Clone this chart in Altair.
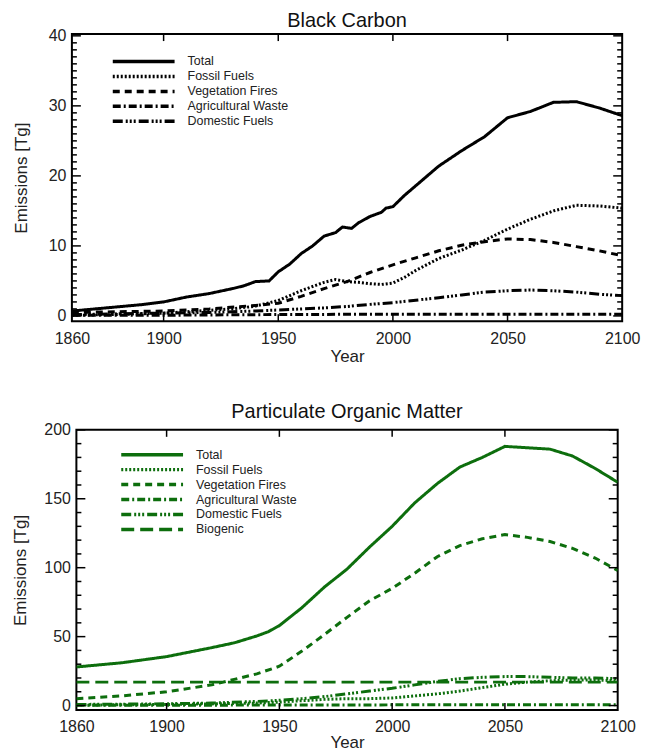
import altair as alt
import pandas as pd

# ---------------- Black Carbon data ----------------
bc_total_years = [1860, 1870, 1880, 1890, 1900, 1910, 1920, 1930, 1935, 1940, 1946, 1950, 1955, 1960,
                  1965, 1970, 1975, 1978, 1982, 1985, 1990, 1995, 1997, 2000, 2005, 2010, 2020, 2030,
                  2040, 2050, 2060, 2070, 2080, 2090, 2100]
bc_total = [0.7, 1.0, 1.3, 1.6, 2.0, 2.7, 3.2, 3.9, 4.3, 4.9, 5.0, 6.3, 7.4, 8.9,
            10.0, 11.4, 11.9, 12.7, 12.5, 13.3, 14.2, 14.8, 15.4, 15.6, 17.2, 18.6, 21.4, 23.6,
            25.6, 28.3, 29.2, 30.5, 30.6, 29.7, 28.6]

bc_fossil_years = [1860, 1880, 1900, 1910, 1920, 1930, 1940, 1950, 1960, 1970, 1975, 1980, 1985, 1990,
                   1995, 2000, 2005, 2010, 2020, 2030, 2040, 2050, 2060, 2070, 2080, 2090, 2100]
bc_fossil = [0.1, 0.2, 0.4, 0.6, 0.8, 1.0, 1.4, 2.2, 3.6, 4.8, 5.2, 4.9, 4.8, 4.6,
             4.5, 4.7, 5.5, 6.5, 8.2, 9.4, 10.8, 12.4, 13.8, 15.0, 15.8, 15.7, 15.4]

bc_veg_years = [1860, 1880, 1900, 1920, 1940, 1950, 1960, 1970, 1980, 1990, 2000, 2010, 2020, 2030,
                2040, 2050, 2060, 2070, 2080, 2090, 2100]
bc_veg = [0.5, 0.6, 0.7, 1.0, 1.5, 1.8, 2.8, 3.9, 4.9, 6.2, 7.3, 8.3, 9.3, 10.1,
          10.6, 11.0, 10.9, 10.5, 9.9, 9.3, 8.6]

bc_agri_years = [1860, 1900, 1950, 2000, 2050, 2100]
bc_agri = [0.1, 0.1, 0.2, 0.25, 0.25, 0.25]

bc_dom_years = [1860, 1880, 1900, 1920, 1940, 1950, 1960, 1970, 1980, 1990, 2000, 2010, 2020, 2030,
                2040, 2050, 2060, 2070, 2080, 2090, 2100]
bc_dom = [0.2, 0.3, 0.4, 0.5, 0.7, 0.85, 1.0, 1.15, 1.35, 1.65, 1.9, 2.25, 2.6, 3.0,
          3.4, 3.6, 3.7, 3.6, 3.4, 3.1, 2.9]

# ---------------- Particulate Organic Matter data ----------------
pom_total_years = [1860, 1880, 1900, 1920, 1930, 1940, 1945, 1950, 1960, 1970, 1980, 1990, 2000,
                   2010, 2020, 2030, 2040, 2050, 2060, 2070, 2080, 2090, 2100]
pom_total = [28, 31, 35.5, 42, 45.5, 50.5, 53.5, 58, 71, 86, 99, 115, 130,
             147, 161, 173, 180, 188, 187, 186, 181, 172, 162]

pom_fossil_years = [1860, 1900, 1920, 1940, 1950, 1960, 1970, 1980, 1990, 2000, 2010, 2020, 2030,
                    2040, 2050, 2060, 2070, 2080, 2090, 2100]
pom_fossil = [0.3, 0.8, 1.2, 1.8, 2.5, 3.5, 4.5, 5.0, 5.0, 5.5, 7.0, 8.5, 10.5,
              13.0, 15.5, 17.0, 18.0, 18.5, 18.5, 18.0]

pom_veg_years = [1860, 1880, 1900, 1920, 1930, 1940, 1950, 1960, 1970, 1980, 1990, 2000, 2010,
                 2020, 2030, 2040, 2050, 2060, 2070, 2080, 2090, 2100]
pom_veg = [5, 7, 10, 15, 19, 23, 28.5, 39.5, 51.5, 64, 76, 85, 96,
           108, 116, 121, 124, 122, 119, 114, 107, 98]

pom_agri_years = [1860, 1900, 1950, 2000, 2050, 2100]
pom_agri = [0.2, 0.2, 0.4, 0.5, 0.5, 0.5]

pom_dom_years = [1860, 1880, 1900, 1920, 1940, 1950, 1960, 1970, 1980, 1990, 2000, 2010, 2020,
                 2030, 2040, 2050, 2060, 2070, 2080, 2090, 2100]
pom_dom = [0.8, 1.0, 1.3, 1.8, 3.0, 3.8, 5.0, 6.5, 8.5, 10.5, 12.5, 15.0, 17.5,
           19.5, 20.5, 21.0, 21.0, 20.5, 20.0, 20.0, 19.5]

pom_bio_years = [1860, 2100]
pom_bio = [17, 17]

series_bc = ["Total", "Fossil Fuels", "Vegetation Fires", "Agricultural Waste", "Domestic Fuels"]
series_pom = series_bc + ["Biogenic"]

dash_total = [1, 0]
dash_fossil = [2, 2]
dash_veg = [7, 5]
dash_agri = [8, 3, 2, 3]
dash_dom = [10, 3, 2, 2, 2, 2, 2, 3]
dash_bio = [13, 6]

x_labels = [1860, 1900, 1950, 2000, 2050, 2100]
x_inner = [1900, 1950, 2000, 2050]

bc_major = [0, 10, 20, 30, 40]
bc_minor = [v for v in range(0, 41) if v % 10 != 0]
pom_major = [0, 50, 100, 150, 200]
pom_minor = [v for v in range(0, 201, 10) if v % 50 != 0]

FONT = "Liberation Sans"


def long_df(pairs):
    rows = []
    for name, yrs, vals in pairs:
        for yr, v in zip(yrs, vals):
            rows.append({"series": name, "year": yr, "value": v})
    return pd.DataFrame(rows)


bc_df = long_df([
    ("Total", bc_total_years, bc_total),
    ("Fossil Fuels", bc_fossil_years, bc_fossil),
    ("Vegetation Fires", bc_veg_years, bc_veg),
    ("Agricultural Waste", bc_agri_years, bc_agri),
    ("Domestic Fuels", bc_dom_years, bc_dom),
])

pom_df = long_df([
    ("Total", pom_total_years, pom_total),
    ("Fossil Fuels", pom_fossil_years, pom_fossil),
    ("Vegetation Fires", pom_veg_years, pom_veg),
    ("Agricultural Waste", pom_agri_years, pom_agri),
    ("Domestic Fuels", pom_dom_years, pom_dom),
    ("Biogenic", pom_bio_years, pom_bio),
])


def panel(df, order, dashes, color, title, ydomain, ymajor, yminor, width, height,
          legx, legy, clip_h, xtitle_pad, ytitle_pad, title_off):
    xscale = alt.Scale(domain=[1860, 2100], nice=False, zero=False)
    yscale = alt.Scale(domain=ydomain, nice=False, zero=False)

    xaxis = alt.Axis(orient="bottom", values=x_labels, format="d", ticks=False,
                     domain=False, grid=False, title="Year", labelFontSize=16,
                     titleFontSize=17, labelPadding=9, titlePadding=xtitle_pad,
                     labelFlush=False, labelOverlap=False,
                     labelFont=FONT, titleFont=FONT, labelColor="#222",
                     titleColor="#222", titleFontWeight="normal")
    yaxis = alt.Axis(orient="left", values=ymajor, ticks=False, domain=False,
                     grid=False, title="Emissions [Tg]", labelFontSize=16,
                     titleFontSize=17, labelPadding=6, titlePadding=ytitle_pad,
                     labelFlush=False, labelOverlap=False,
                     labelFont=FONT, titleFont=FONT, labelColor="#222",
                     titleColor="#222", titleFontWeight="normal")

    lines = alt.Chart(df).mark_line(strokeWidth=3, color=color, clip=True).encode(
        x=alt.X("year:Q", scale=xscale, axis=xaxis),
        y=alt.Y("value:Q", scale=yscale, axis=yaxis),
        strokeDash=alt.StrokeDash(
            "series:N",
            scale=alt.Scale(domain=order, range=dashes),
            legend=alt.Legend(title=None, orient="none", legendX=legx, legendY=legy,
                              symbolType="stroke", symbolSize=3844, symbolStrokeWidth=3.5,
                              symbolStrokeColor=color, clipHeight=clip_h, rowPadding=0,
                              labelFontSize=12.5, labelOffset=11, padding=0,
                              labelFont=FONT, labelColor="#222")),
    )

    def yticks(vals, length, side):
        d = pd.DataFrame({"value": vals})
        if side == "left":
            xa, xb = 0, length
        else:
            xa, xb = width - length, width
        return alt.Chart(d).mark_rule(color="black", strokeWidth=1.5).encode(
            y=alt.Y("value:Q", scale=yscale, axis=yaxis),
            x=alt.value(xa), x2=alt.value(xb))

    def xticks(vals, length, side):
        d = pd.DataFrame({"year": vals})
        if side == "top":
            ya, yb = 0, length
        else:
            ya, yb = height - length, height
        return alt.Chart(d).mark_rule(color="black", strokeWidth=1.5).encode(
            x=alt.X("year:Q", scale=xscale, axis=xaxis),
            y=alt.value(ya), y2=alt.value(yb))

    tick_layers = [
        yticks(yminor, 5, "left"), yticks(ymajor, 9, "left"),
        yticks(yminor, 5, "right"), yticks(ymajor, 9, "right"),
        xticks(x_inner, 7, "top"), xticks(x_inner, 7, "bottom"),
    ]

    return alt.layer(lines, *tick_layers).properties(
        width=width, height=height,
        title=alt.TitleParams(title, fontSize=20, font=FONT, fontWeight="normal",
                              color="#111", offset=title_off, anchor="middle"),
    )


top = panel(bc_df, series_bc, [dash_total, dash_fossil, dash_veg, dash_agri, dash_dom],
            "black", "Black Carbon", [-0.75, 40.25], bc_major, bc_minor,
            552, 288, 39, 20, 15.0, 2, 18, -3)

bottom = panel(pom_df, series_pom,
               [dash_total, dash_fossil, dash_veg, dash_agri, dash_dom, dash_bio],
               "#0d6e0d", "Particulate Organic Matter", [-3.2, 200], pom_major, pom_minor,
               543, 281, 43, 17.5, 14.8, 0, 14.5, 0)

chart = alt.concat(top, bottom, columns=1, spacing=36, center=True).resolve_scale(
    strokeDash="independent"
).properties(
    padding={"left": 2, "top": 0, "right": 5, "bottom": 0}
).configure_view(stroke="black", strokeWidth=2)

chart.save("out.html", embed_options={"renderer": "svg", "actions": False})
